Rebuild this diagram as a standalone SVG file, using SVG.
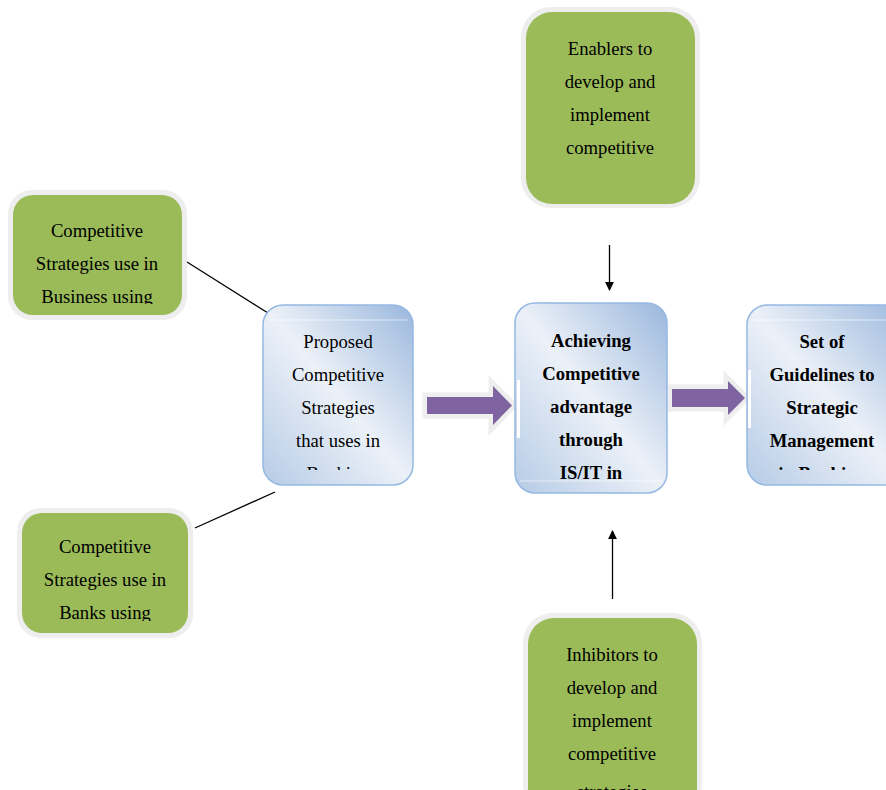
<svg xmlns="http://www.w3.org/2000/svg" width="886" height="790" viewBox="0 0 886 790">
<style>
.glow{fill:#eeeeee}
.green{fill:#9bbb59}
.blue{fill:url(#bg);stroke:#95b8e3;stroke-width:1.5}
.t{font-family:"Liberation Serif","Times New Roman",serif;font-size:18.67px;fill:#000;text-anchor:middle}
.b{font-weight:bold}
.pa{fill:#8064a2;stroke:#eeeeee;stroke-width:9;stroke-linejoin:miter;paint-order:stroke}
.ln{stroke:#000;stroke-width:1.3;fill:none}
</style>
<defs>
<linearGradient id="bg" x1="1" y1="0" x2="0" y2="1">
<stop offset="0" stop-color="#9ab7dd"/>
<stop offset="0.5" stop-color="#ecf1f8"/>
<stop offset="1" stop-color="#b6cbe6"/>
</linearGradient>
<marker id="ah" viewBox="0 0 10 10" refX="9" refY="5" markerWidth="9" markerHeight="12" markerUnits="userSpaceOnUse" orient="auto">
<path d="M0,0 L10,5 L0,10 z" fill="#000"/>
</marker>
<clipPath id="c1"><rect x="0" y="190" width="200" height="114"/></clipPath>
<clipPath id="c2"><rect x="0" y="508" width="200" height="113"/></clipPath>
<clipPath id="c3"><rect x="263" y="305" width="150" height="165"/></clipPath>
<clipPath id="c4"><rect x="515" y="303" width="152" height="178"/></clipPath>
<clipPath id="c5"><rect x="747" y="305" width="139" height="165"/></clipPath>
<clipPath id="c6"><rect x="521" y="7" width="179" height="160"/></clipPath>
</defs>

<g id="connectors">
<line class="ln" x1="187" y1="262" x2="268" y2="313"/>
<line class="ln" x1="195" y1="528" x2="275" y2="492"/>
<line class="ln" x1="609.5" y1="245" x2="609.5" y2="290" marker-end="url(#ah)"/>
<line class="ln" x1="612.5" y1="599" x2="612.5" y2="531" marker-end="url(#ah)"/>
<polygon class="pa" points="427,397 493,397 493,386 512,405.5 493,425 493,414 427,414"/>
<polygon class="pa" points="672,389 728,389 728,381 745,398 728,415 728,407 672,407"/>
</g>

<g id="enablers">
<rect class="glow" x="521" y="7" width="179" height="201" rx="30"/>
<rect class="green" x="526" y="12" width="169" height="192" rx="26"/>
<g clip-path="url(#c6)">
<text class="t" x="610" y="55">Enablers to</text>
<text class="t" x="610" y="88">develop and</text>
<text class="t" x="610" y="121">implement</text>
<text class="t" x="610" y="154">competitive</text>
</g>
</g>

<g id="business">
<rect class="glow" x="8" y="190" width="179" height="130" rx="24"/>
<rect class="green" x="13" y="195" width="169" height="120" rx="20"/>
<g clip-path="url(#c1)">
<text class="t" x="97" y="237">Competitive</text>
<text class="t" x="97" y="270">Strategies use in</text>
<text class="t" x="97" y="303">Business using</text>
</g>
</g>

<g id="banks">
<rect class="glow" x="17" y="508" width="176" height="130" rx="24"/>
<rect class="green" x="22" y="513" width="166" height="120" rx="20"/>
<g clip-path="url(#c2)">
<text class="t" x="105" y="553">Competitive</text>
<text class="t" x="105" y="586">Strategies use in</text>
<text class="t" x="105" y="619">Banks using</text>
</g>
</g>

<g id="inhibitors">
<rect class="glow" x="523" y="613" width="179" height="200" rx="30"/>
<rect class="green" x="528" y="618" width="169" height="200" rx="26"/>
<text class="t" x="612" y="661">Inhibitors to</text>
<text class="t" x="612" y="694">develop and</text>
<text class="t" x="612" y="727">implement</text>
<text class="t" x="612" y="760">competitive</text>
<text class="t" x="612" y="798">strategies</text>
</g>

<g id="proposed">
<rect class="blue" x="263" y="305" width="150" height="180" rx="20"/>
<line x1="268" y1="320" x2="408" y2="320" stroke="#ffffff" stroke-opacity="0.6"/>
<g clip-path="url(#c3)">
<text class="t" x="338" y="348">Proposed</text>
<text class="t" x="338" y="381">Competitive</text>
<text class="t" x="338" y="414">Strategies</text>
<text class="t" x="338" y="447">that uses in</text>
<text class="t" x="338" y="480">Banking</text>
</g>
</g>

<g id="achieving">
<rect class="blue" x="515" y="303" width="152" height="190" rx="20"/>
<line x1="520" y1="481" x2="662" y2="481" stroke="#ffffff" stroke-opacity="0.6"/>
<rect x="517" y="380" width="3" height="58" fill="#ffffff"/>
<g clip-path="url(#c4)">
<text class="t b" x="591" y="347">Achieving</text>
<text class="t b" x="591" y="380">Competitive</text>
<text class="t b" x="591" y="413">advantage</text>
<text class="t b" x="591" y="446">through</text>
<text class="t b" x="591" y="479">IS/IT in</text>
</g>
</g>

<g id="guidelines">
<rect class="blue" x="747" y="305" width="160" height="180" rx="20"/>
<line x1="752" y1="320" x2="886" y2="320" stroke="#ffffff" stroke-opacity="0.6"/>
<rect x="748" y="370" width="3" height="58" fill="#ffffff"/>
<g clip-path="url(#c5)">
<text class="t b" x="822" y="348">Set of</text>
<text class="t b" x="822" y="381">Guidelines to</text>
<text class="t b" x="822" y="414">Strategic</text>
<text class="t b" x="822" y="447">Management</text>
<text class="t b" x="822" y="480">in Banking</text>
</g>
</g>
</svg>
